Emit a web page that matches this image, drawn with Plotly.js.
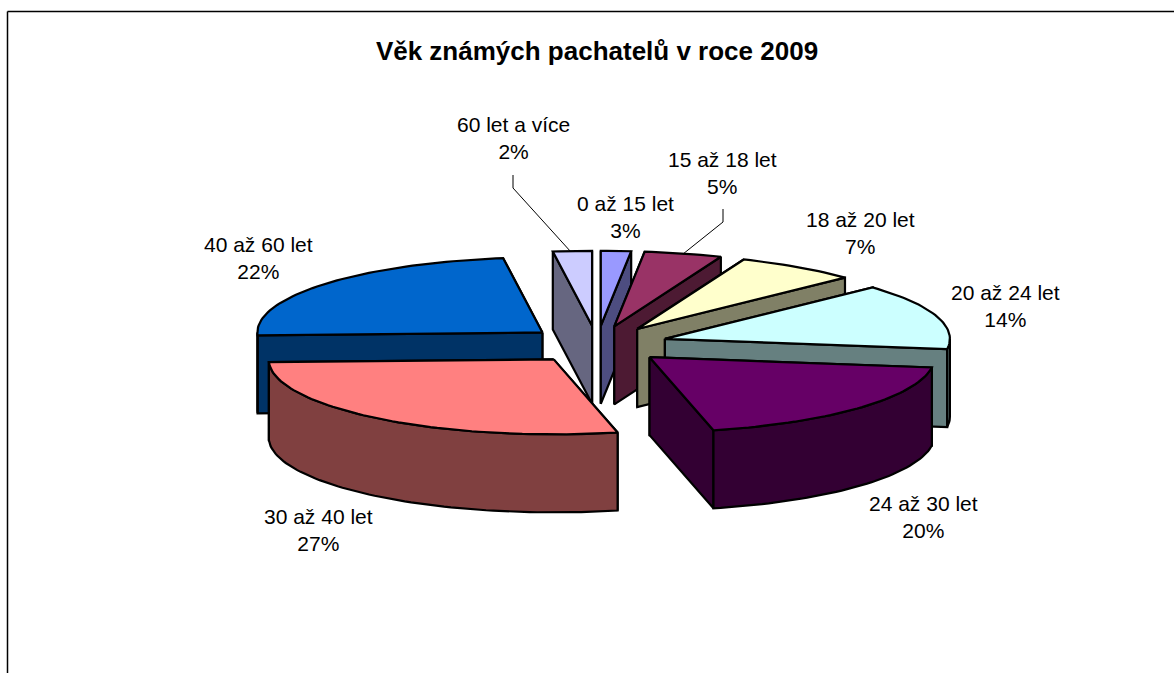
<!DOCTYPE html>
<html><head><meta charset="utf-8">
<script src="https://cdn.plot.ly/plotly-3.0.1.min.js"></script>
<style>html,body{margin:0;padding:0;background:#fff}#chart{width:1174px;height:673px}</style>
</head><body><div id="chart"></div>
<script>
// Data
const categories = ['0 až 15 let','15 až 18 let','18 až 20 let','20 až 24 let','24 až 30 let','30 až 40 let','40 až 60 let','60 let a více'];
const percentLabels = [3,5,7,14,20,27,22,2];
const sliceShares = [1.7,4.4,6.9,14.2,19.2,28.0,23.4,2.2]; // drawn size of each slice, % of the circle
const topColors = ['#9999FF','#993366','#FFFFCC','#CCFFFF','#660066','#FF8080','#0066CC','#CCCCFF'];
const wallColors = ['#4D4D80','#4D1A33','#808066','#668080','#330033','#804040','#003366','#666680'];

// Pie geometry in axis units (axes run 1:1 with the page)
const cx=597, cy=344.5, rx=285, ry=75, depth=78, explode=0.25;
const paintOrder=[7,0,1,2,6,3,4,5];
const labelPos=[[625,217],[722,173],[860,233],[1005,306],[923,517],[318,530],[258,258],[513,138]];

const rad=d=>d*Math.PI/180;
const total=sliceShares.reduce((a,b)=>a+b,0);
let cum=0;
const slices=sliceShares.map((v,i)=>{
  const a0=cum/total*360; cum+=v; const a1=cum/total*360; const m=rad((a0+a1)/2);
  return {i,a0,a1,ax:cx+explode*rx*Math.sin(m),ay:cy-explode*ry*Math.cos(m)};
});
const rim=(s,a)=>[s.ax+rx*Math.sin(rad(a)),s.ay-ry*Math.cos(rad(a))];
function arc(s,a0,a1){const n=Math.max(2,Math.ceil((a1-a0)/1.5));const p=[];for(let k=0;k<=n;k++)p.push(rim(s,a0+(a1-a0)*k/n));return p;}
const poly=(pts,color,name)=>({type:'scatter',mode:'lines',x:pts.map(p=>p[0]).concat(pts[0][0]),y:pts.map(p=>p[1]).concat(pts[0][1]),
  fill:'toself',fillcolor:color,line:{color:'#000',width:2.2,shape:'linear'},hoverinfo:name?'text':'skip',text:name||'',showlegend:false});
const traces=[];
paintOrder.forEach(idx=>{
  const s=slices[idx], wc=wallColors[idx];
  const side=a=>{const r=rim(s,a);return {y:r[1],pts:[[s.ax,s.ay],r,[r[0],r[1]+depth],[s.ax,s.ay+depth]]};};
  const sides=[side(s.a0),side(s.a1)].sort((p,q)=>p.y-q.y);
  sides.forEach(w=>traces.push(poly(w.pts,wc)));
  const lo=Math.max(s.a0,90), hi=Math.min(s.a1,270);
  if(hi>lo){const top=arc(s,lo,hi);const bottom=top.slice().reverse().map(p=>[p[0],p[1]+depth]);traces.push(poly(top.concat(bottom),wc));}
  traces.push(poly([[s.ax,s.ay]].concat(arc(s,s.a0,s.a1)),topColors[idx],categories[idx]+': '+percentLabels[idx]+'%'));
});
const leader=(xs,ys)=>({type:'scatter',mode:'lines',x:xs,y:ys,line:{color:'#000',width:1},hoverinfo:'skip',showlegend:false});
traces.push(leader([513,513,571],[175,188,252]));
traces.push(leader([723,723,683],[209,222,254]));
const font={family:'"Liberation Sans", Arial, sans-serif',size:21,color:'#000'};
const annotations=categories.map((c,i)=>({x:labelPos[i][0],y:labelPos[i][1],xref:'x',yref:'y',text:c+'<br>'+percentLabels[i]+'%',showarrow:false,
  font,align:'center',xanchor:'center',yanchor:'middle'}));
const layout={width:1174,height:673,margin:{l:0,r:0,t:0,b:0},paper_bgcolor:'#fff',plot_bgcolor:'#fff',showlegend:false,
  title:{text:'<b>Věk známých pachatelů v roce 2009</b>',x:597/1174,xanchor:'center',y:1-51/673,yanchor:'middle',font:{family:font.family,size:26,color:'#000'}},
  xaxis:{range:[0,1174],visible:false,fixedrange:true},yaxis:{range:[673,0],visible:false,fixedrange:true},
  annotations,
  shapes:[{type:'line',xref:'x',yref:'y',x0:7.5,x1:7.5,y0:11.5,y1:673,line:{color:'#000',width:1.5}},
          {type:'line',xref:'x',yref:'y',x0:7.5,x1:1174,y0:11.5,y1:11.5,line:{color:'#000',width:1.5}}]};
Plotly.newPlot('chart',traces,layout,{displayModeBar:false,responsive:false});
</script></body></html>
